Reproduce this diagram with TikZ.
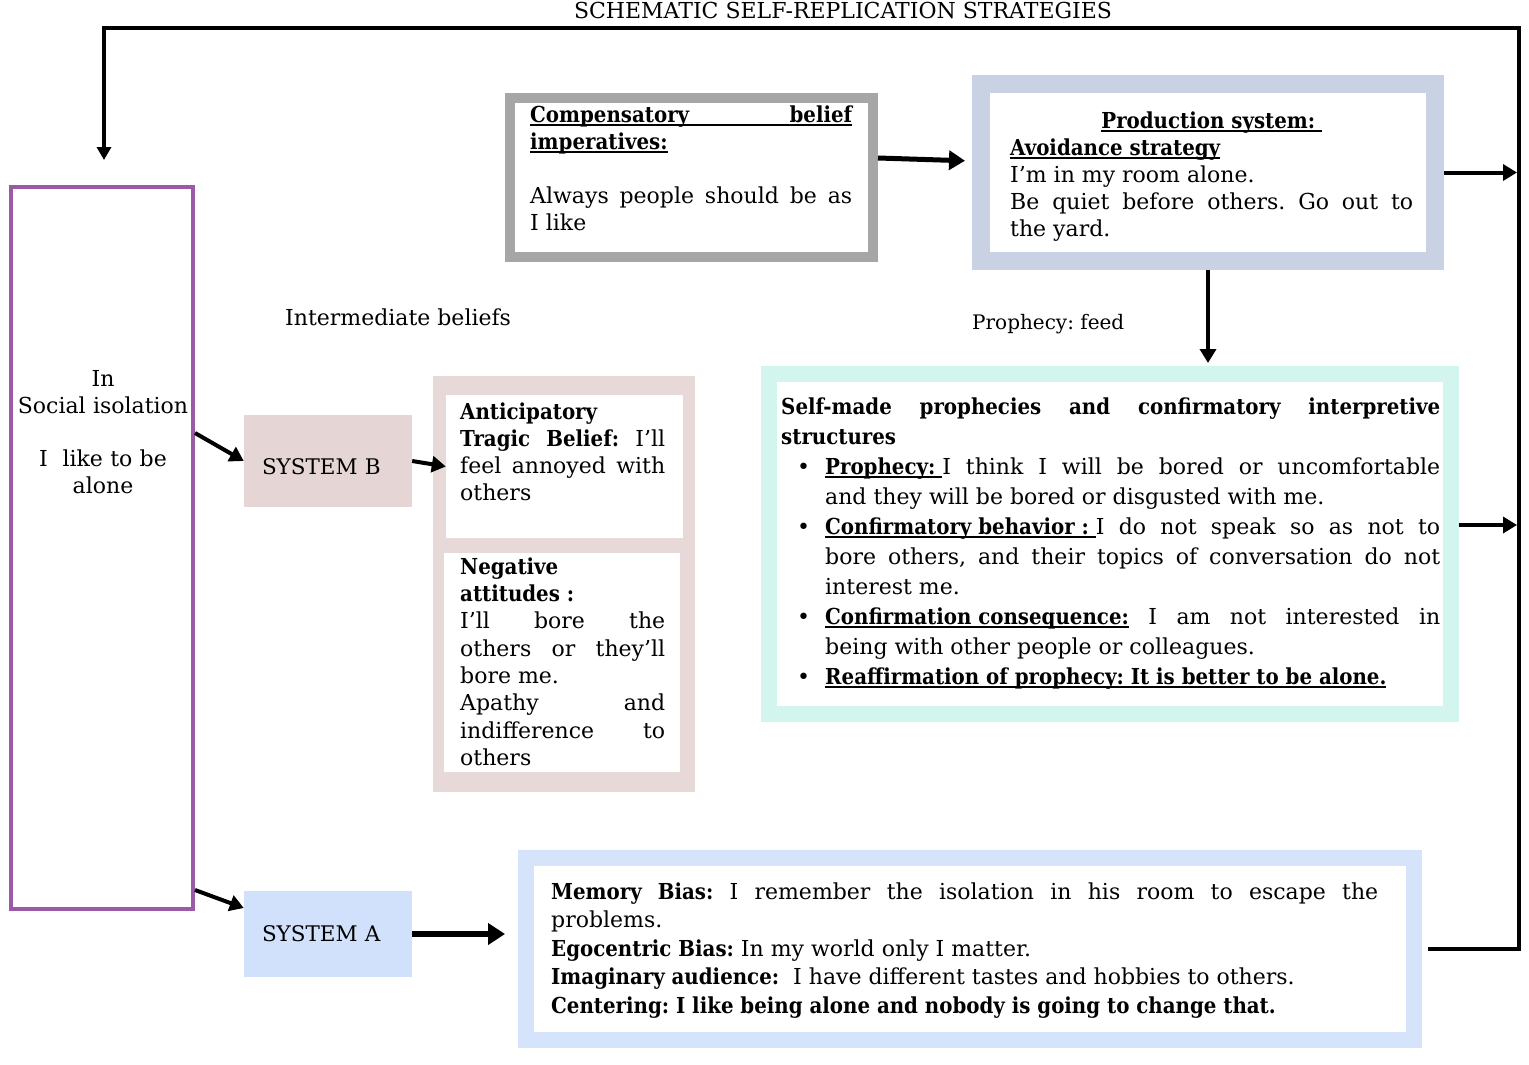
\documentclass[tikz,border=0pt]{standalone}
\usepackage{fontspec}
\setmainfont{DejaVu Serif}[BoldFeatures={FakeStretch=0.9}]
\usetikzlibrary{arrows.meta,calc}
\setlength{\parindent}{0pt}
\frenchspacing
\definecolor{cgray}{HTML}{A6A6A6}
\definecolor{cprod}{HTML}{C8D2E3}
\definecolor{cself}{HTML}{D2F5EE}
\definecolor{cpinkB}{HTML}{E6D5D5}
\definecolor{cpinkbg}{HTML}{E8D9D9}
\definecolor{csysA}{HTML}{D2E1FB}
\definecolor{cmem}{HTML}{D5E3FB}
\definecolor{cpurple}{HTML}{9A5AA6}
\newcommand{\myul}[1]{\leavevmode\setbox0=\hbox{#1}\rlap{\rule[-3.5pt]{\wd0}{1.4pt}}\box0}
\newcommand{\mybul}{\par\hangindent=44pt\hangafter=1\noindent\hbox to 44pt{\hskip 16pt\textbullet\hss}}
\tikzset{
  frame/.style={rectangle, inner sep=0pt, fill=white},
  txt/.style={anchor=north west, inner sep=0pt, align=justify},
  fz/.style={font=\fontsize{22}{27}\selectfont\frenchspacing},
  sysbox/.style={rectangle, inner sep=0pt, minimum width=168pt, text width=132pt, align=left, font=\fontsize{21.5}{27}\selectfont},
  arr/.style={line width=4pt, -{Triangle[length=14pt,width=16pt]}},
  bigarr/.style={line width=6pt, -{Triangle[length=17pt,width=21pt]}},
  loopline/.style={line width=3.5pt, line join=miter, -{Triangle[length=13pt,width=14pt]}}
}
\begin{document}
\begin{tikzpicture}[x=1pt,y=-1pt]
\useasboundingbox (0,0) rectangle (1529,1065);

% title
\node[anchor=base, font=\fontsize{22}{25}\selectfont] (title) at (843,19) {SCHEMATIC SELF-REPLICATION STRATEGIES};

% boxes
\node[frame, draw=cpurple, line width=4pt, outer sep=2pt, minimum width=182pt, minimum height=722pt] (purple) at (102,548) {};
\node[frame, draw=cgray, line width=10pt, outer sep=5pt, minimum width=363pt, minimum height=159pt] (comp) at (691.5,177.5) {};
\node[frame, draw=cprod, line width=18pt, outer sep=9pt, minimum width=454pt, minimum height=177pt] (prod) at (1208,172.5) {};
\node[frame, draw=cself, line width=16pt, outer sep=8pt, minimum width=682pt, minimum height=340pt] (self) at (1110,544) {};
\node[frame, draw=cmem, line width=16pt, outer sep=8pt, minimum width=888pt, minimum height=182pt] (mem) at (970,949) {};
\node[rectangle, inner sep=0pt, fill=cpinkbg, minimum width=262pt, minimum height=416pt] (anticbg) at (564,584) {};
\node[rectangle, inner sep=0pt, fill=white, minimum width=237pt, minimum height=143pt] (antic1) at (564.5,466.5) {};
\node[rectangle, inner sep=0pt, fill=white, minimum width=236pt, minimum height=219pt] (antic2) at (562,662.5) {};
\node[sysbox, fill=cpinkB, minimum height=92pt, text height=26pt, text depth=0pt] (sysB) at (328,461) {SYSTEM B};
\node[sysbox, fill=csysA, minimum height=86pt] (sysA) at (328,934) {SYSTEM A};

% texts
\node[anchor=north, inner sep=0pt, text width=186pt, align=center, fz] (purpletxt) at (103,367)
  {\strut In\\ Social isolation\\[26pt] I~~like to be\\ alone};

\node[txt, fz, text width=322pt] (comptxt) at (530,103)
  {\strut{\bfseries\myul{\makebox[\hsize][s]{Compensatory belief}}\newline\myul{imperatives:}}\par\strut\par
   Always people should be as\linebreak I like};

\node[txt, fz, text width=403pt] (prodtxt) at (1010,109)
  {{\centering\strut\bfseries\myul{Production system:\ }\par}
   {\bfseries\myul{Avoidance strategy}}\newline
   I’m in my room alone.\newline
   Be quiet before others. Go out to\linebreak the yard.};

\node[txt, font=\fontsize{22}{30}\selectfont\frenchspacing, text width=659pt] (selftxt) at (781,393)
  {\strut{\bfseries Self-made prophecies and confirmatory interpretive\linebreak structures}
   \mybul{\bfseries\myul{Prophecy:\ }}I think I will be bored or uncomfortable\linebreak and they will be bored or disgusted with me.
   \mybul{\bfseries\myul{Confirmatory behavior :\ }}I do not speak so as not to\linebreak bore others, and their topics of conversation do not\linebreak interest me.
   \mybul{\bfseries\myul{Confirmation consequence:}} I am not interested in\linebreak being with other people or colleagues.
   \mybul{\bfseries\myul{Reaffirmation of prophecy: It is better to be alone.}}};

\node[txt, fz, text width=205pt] (antic1txt) at (460,400)
  {\strut\textbf{Anticipatory}\newline\textbf{Tragic Belief:} I’ll\linebreak feel annoyed with\linebreak others};

\node[txt, font=\fontsize{22}{27.3}\selectfont\frenchspacing, text width=205pt] (antic2txt) at (460,555)
  {\strut\textbf{Negative}\newline\textbf{attitudes :}\newline I’ll bore the\linebreak others or they’ll\linebreak bore me.\par
   Apathy and\linebreak indifference to\linebreak others};

\node[txt, font=\fontsize{22}{28.5}\selectfont\frenchspacing, text width=827pt] (memtxt) at (551,879)
  {\strut\textbf{Memory Bias:} I remember the isolation in his room to escape the\linebreak problems.\par
   \textbf{Egocentric Bias:} In my world only I matter.\par
   \textbf{Imaginary audience:}\ \ I have different tastes and hobbies to others.\par
   \textbf{Centering: I like being alone and nobody is going to change that.}};

% labels
\node[anchor=base west, inner sep=0pt, font=\fontsize{22}{24}\selectfont] (interm) at (285,325) {Intermediate beliefs};
\node[anchor=base west, inner sep=0pt, font=\fontsize{20}{22}\selectfont] (feed) at (972,329) {Prophecy: feed};

% coordinates of the loop
\coordinate (rtop) at (1519,28);
\coordinate (rbot) at (1519,949);
\coordinate (ltop) at (104,28);

% connectors
\draw[arr] ([yshift=115pt]purple.east) -- (sysB.west);
\draw[arr] ([yshift=-342pt]purple.east) -- ([yshift=26pt]sysA.west);
\draw[arr] (sysB.east) -- (antic1.west);
\draw[bigarr, shorten >=13pt] (sysA.east) -- (sysA.east -| mem.west);
\draw[line width=5pt, -{Triangle[length=16pt,width=19pt]}, shorten >=7pt] ([yshift=19.5pt]comp.east) -- ([yshift=11.5pt]prod.west);
\draw[arr, shorten >=3pt] (prod.south) -- (prod.south |- self.north);
\draw[arr, shorten >=2pt] (prod.east) -- (prod.east -| rtop);
\draw[arr, shorten >=2pt] ([yshift=19pt]self.east) -- ([yshift=19pt]self.east -| rtop);
\draw[loopline] ([xshift=6pt]mem.east) -- (rbot) -- (rtop) -- (ltop) -- ([yshift=25pt]ltop |- purple.north);
\end{tikzpicture}
\end{document}
